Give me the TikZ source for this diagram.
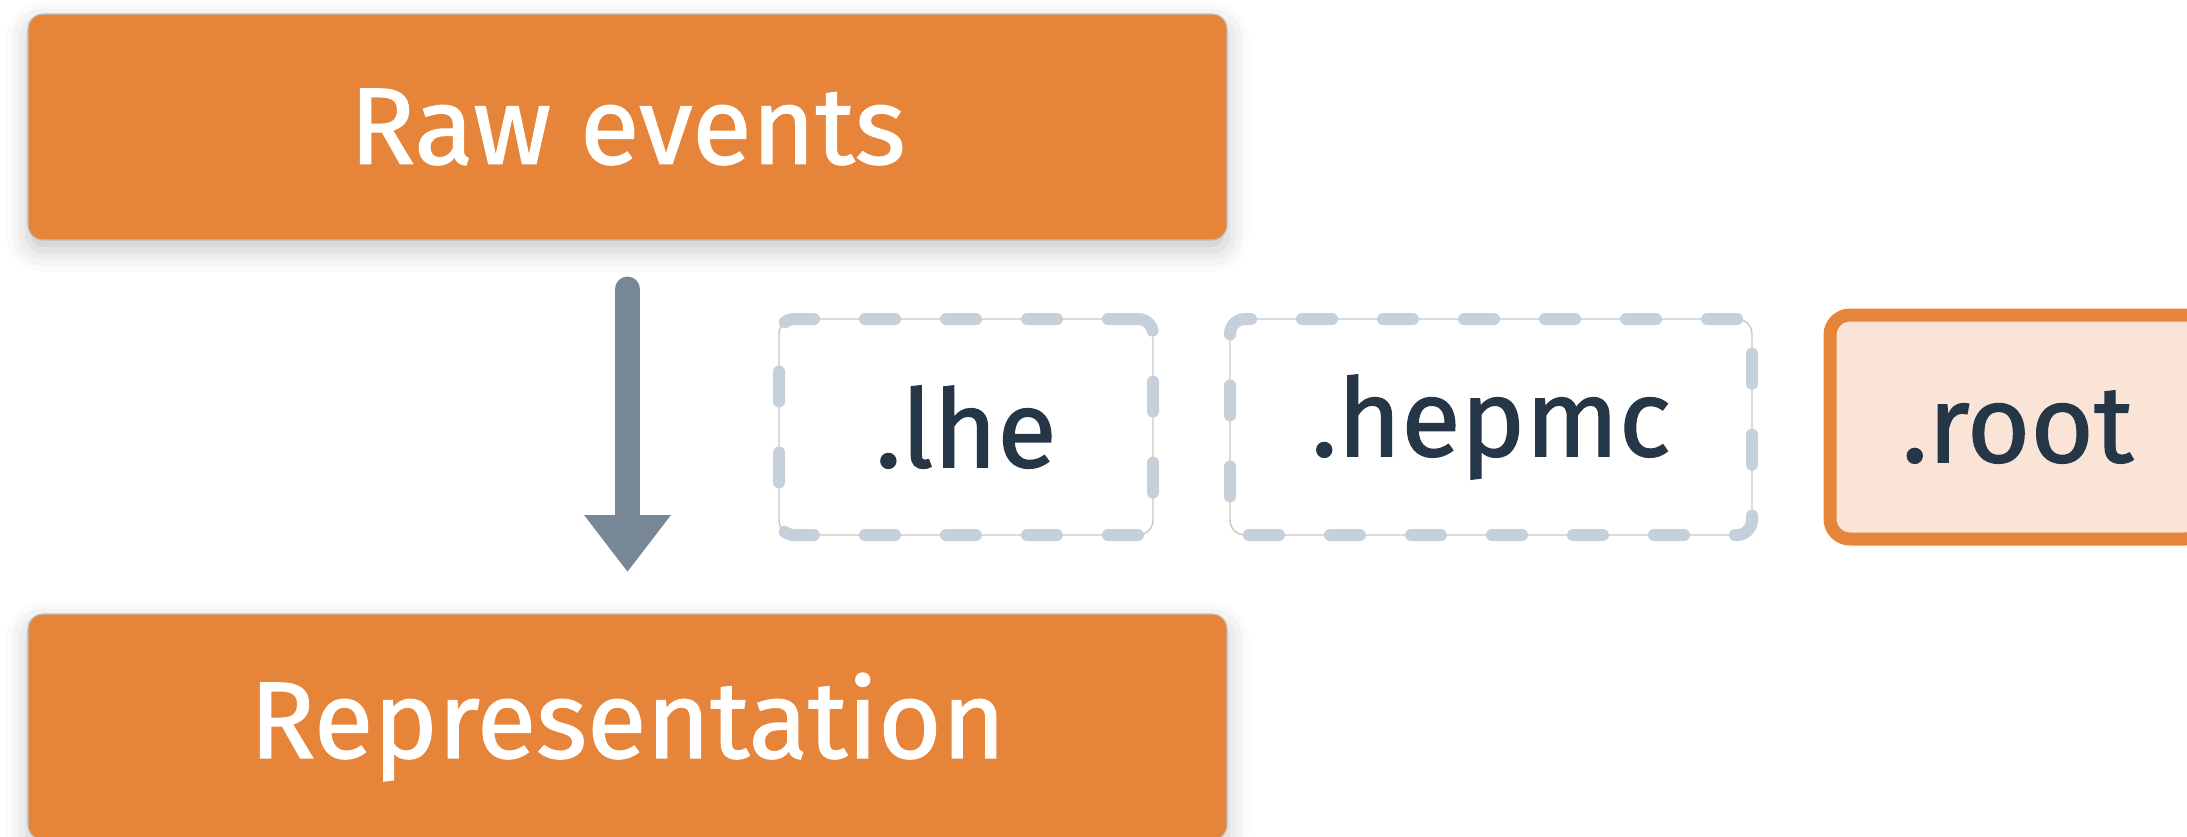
\documentclass[tikz,border=0pt]{standalone}
\usepackage{fontspec}
\setmainfont{Fira Sans}
\newfontfamily\labelfont{Fira Sans}[FakeBold=1.1]
\usetikzlibrary{positioning,arrows.meta,shadows.blur}

\definecolor{evorange}{HTML}{E6853A}
\definecolor{rootfill}{HTML}{F9E4D7}
\definecolor{dashgrey}{HTML}{C5D0DA}
\definecolor{inkdark}{HTML}{253646}
\definecolor{arrowgrey}{HTML}{788796}

\tikzstyle{every node}+=[inner sep=0mm,outer sep=0mm,font=\labelfont\fontsize{31}{36}\selectfont]
\tikzstyle{stage}=[rectangle,rounded corners=0.15cm,fill=evorange,draw=black!25,line width=0.3pt,
  text=white,minimum width=11.99cm,minimum height=2.26cm,
  blur shadow={shadow xshift=0cm,shadow yshift=-0.1cm,shadow blur radius=0.22cm,shadow opacity=22}]
\tikzstyle{filebox}=[rectangle,rounded corners=0.15cm,minimum height=2.16cm,text=inkdark,
  draw=dashgrey,line width=0.12cm,line cap=round,dash pattern=on 0.30cm off 0.51cm,
  preaction={draw=black!22,line width=0.4pt,solid}]
\tikzstyle{chosen}=[rectangle,rounded corners=0.2cm,minimum width=3.75cm,minimum height=2.24cm,
  text=inkdark,draw=evorange,fill=rootfill,line width=0.13cm]
\tikzstyle{flow}=[draw=arrowgrey,line width=0.25cm,line cap=round,
  -{Triangle[width=0.83cm,length=0.57cm]},shorten <=0.49cm,shorten >=0.42cm]

\begin{document}
\begin{tikzpicture}

\useasboundingbox (0,0) rectangle (21.87,-8.36);
\clip (0,0) rectangle (21.87,-8.36);

\node[stage] (raw) at (6.275,-1.27) {Raw events};
\node[stage, below=3.74cm of raw] (rep) {Representation};

\node[filebox, minimum width=3.74cm] (lhe) at (9.66,-4.27) {.lhe};
\node[filebox, minimum width=5.22cm, right=0.77cm of lhe] (hepmc) {.hepmc};
\node[chosen, right=0.78cm of hepmc] (root) {.root};

\draw[flow] (raw) -- (rep);
\end{tikzpicture}
\end{document}
